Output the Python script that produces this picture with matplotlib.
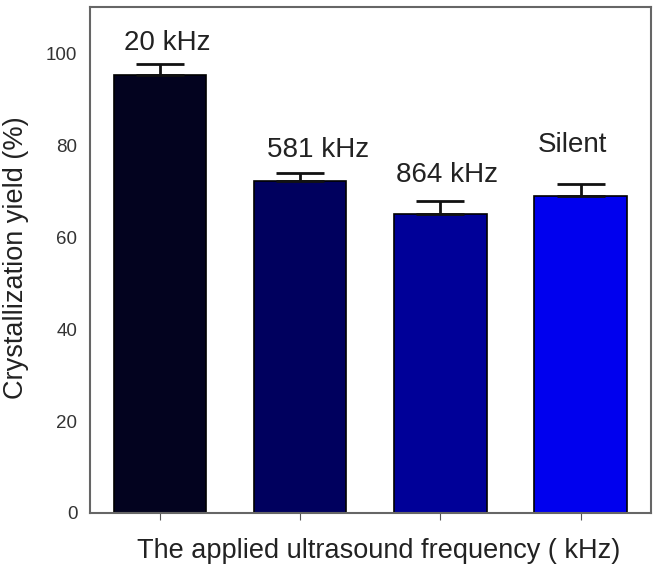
import numpy as np
import matplotlib
matplotlib.use("Agg")
import matplotlib.pyplot as plt

plt.rcParams['font.family'] = ['Liberation Sans', 'DejaVu Sans']

labels = ['20 kHz', '581 kHz', '864 kHz', 'Silent']
yields = [95.2, 72.2, 65.1, 69.0]
errors = [2.4, 1.8, 2.8, 2.6]
colors = ['#03031f', '#00005e', '#000098', '#0000ee']

# where the bar captions sit (x offset from bar centre, baseline in data units)
cap_dx = [0.05, 0.13, 0.05, -0.06]
cap_y = [100.6, 77.4, 72.0, 78.5]

fig = plt.figure(figsize=(6.56, 5.71), dpi=100)
ax = fig.add_axes([0.137, 0.1016, 0.855, 0.886])

x = np.arange(len(labels))
ax.bar(x, yields, width=0.66, color=colors, edgecolor='black', linewidth=1.2, zorder=2)
ax.errorbar(x, yields, yerr=[np.zeros(len(errors)), errors], fmt='none',
            ecolor='#111111', elinewidth=2, capsize=17, capthick=2, zorder=3)

for xi, lab, dx, ly in zip(x, labels, cap_dx, cap_y):
    ax.text(xi + dx, ly, lab, ha='center', va='baseline', fontsize=20, color='#222222')

ax.set_xlim(-0.5, 3.5)
ax.set_ylim(0, 110)
ax.set_yticks([0, 20, 40, 60, 80, 100])
ax.set_xticks(x)
ax.set_xticklabels([])
ax.tick_params(axis='y', labelsize=13.5, colors='#333333', length=0, pad=9)
ax.tick_params(axis='x', length=5, color='#555555', direction='out')
for s in ax.spines.values():
    s.set_color('#666666')
    s.set_linewidth(1.5)

ax.set_xlabel('The applied ultrasound frequency ( kHz)', fontsize=19.5, color='#222222')
ax.xaxis.set_label_coords(0.514, -0.05)
ax.set_ylabel('Crystallization yield (%)', fontsize=19.5, color='#222222')
ax.yaxis.set_label_coords(-0.108, 0.505)

fig.savefig('out.png', dpi=100)
